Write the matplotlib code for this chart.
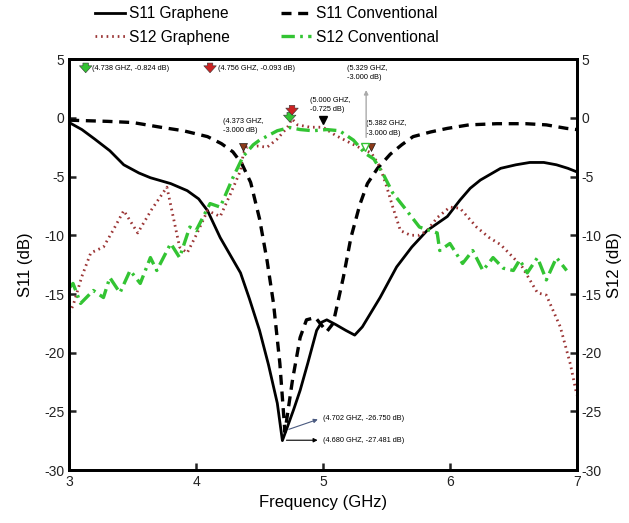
import matplotlib
matplotlib.use("Agg")
import matplotlib.pyplot as plt

plt.rcParams['font.family'] = ['Liberation Sans', 'DejaVu Sans']
plt.rcParams['axes.unicode_minus'] = False

# S11 graphene (solid)
s11g_f = [3.00, 3.10, 3.20, 3.32, 3.43, 3.55, 3.64, 3.80, 3.93, 4.02, 4.09, 4.19, 4.27, 4.35,
          4.42, 4.50, 4.57, 4.64, 4.68, 4.72, 4.77, 4.82, 4.88, 4.95, 4.99, 5.03, 5.10, 5.18,
          5.25, 5.31, 5.45, 5.58, 5.70, 5.82, 5.98, 6.08, 6.16, 6.24, 6.40, 6.52, 6.63, 6.74,
          6.84, 6.93, 7.00]
s11g_db = [-0.4, -1.0, -1.8, -2.8, -4.0, -4.7, -5.1, -5.6, -6.2, -6.9, -7.9, -10.2, -11.7, -13.2,
           -15.4, -18.1, -21.0, -24.3, -27.48, -26.3, -24.8, -23.2, -20.9, -18.1, -17.4, -17.2,
           -17.6, -18.1, -18.5, -17.8, -15.3, -12.7, -11.0, -9.6, -8.4, -7.0, -6.0, -5.3, -4.3,
           -4.0, -3.8, -3.8, -4.0, -4.3, -4.6]

# S11 conventional (dashed)
s11c_f = [3.00, 3.30, 3.50, 3.72, 3.90, 4.09, 4.20, 4.29, 4.36, 4.43, 4.50, 4.56, 4.61, 4.66,
          4.70, 4.76, 4.82, 4.87, 4.94, 5.03, 5.08, 5.16, 5.22, 5.29, 5.35, 5.43, 5.53, 5.62,
          5.71, 5.85, 5.98, 6.15, 6.37, 6.60, 6.76, 6.92, 7.00]
s11c_db = [-0.2, -0.3, -0.4, -0.8, -1.1, -1.6, -2.2, -2.9, -3.9, -5.5, -8.6, -12.2, -15.8, -20.9,
           -26.75, -22.3, -18.7, -17.2, -17.0, -18.2, -17.5, -13.6, -10.2, -7.4, -5.6, -4.3, -3.1,
           -2.3, -1.6, -1.2, -0.9, -0.6, -0.5, -0.5, -0.6, -0.9, -1.0]

# S12 graphene (dotted)
s12g_f = [3.00, 3.03, 3.10, 3.17, 3.27, 3.35, 3.43, 3.54, 3.65, 3.77, 3.87, 3.93, 4.00, 4.09,
          4.19, 4.27, 4.35, 4.373, 4.40, 4.48, 4.56, 4.64, 4.72, 4.756, 4.80, 4.90, 5.00, 5.10,
          5.19, 5.30, 5.382, 5.45, 5.50, 5.55, 5.61, 5.69, 5.76, 5.82, 5.90, 6.00, 6.08, 6.21,
          6.31, 6.40, 6.50, 6.57, 6.69, 6.76, 6.87, 6.95, 7.00]
s12g_db = [-16.6, -16.0, -13.5, -11.5, -11.0, -9.5, -7.9, -9.8, -7.8, -5.9, -11.0, -11.5, -10.0,
           -7.9, -8.4, -6.5, -4.5, -3.0, -2.5, -2.4, -2.5, -1.8, -0.8, -0.093, -0.6, -0.8, -0.8,
           -1.5, -2.0, -2.6, -3.0, -4.2, -5.8, -7.6, -9.6, -10.0, -10.0, -9.6, -8.5, -7.6, -7.7,
           -9.3, -10.2, -10.8, -11.9, -12.7, -14.9, -15.1, -17.8, -21.0, -23.6]

# S12 conventional (dash-dot)
s12c_f = [3.00, 3.03, 3.09, 3.19, 3.27, 3.32, 3.40, 3.48, 3.56, 3.64, 3.69, 3.80, 3.87, 3.95,
          4.00, 4.11, 4.19, 4.29, 4.37, 4.45, 4.50, 4.64, 4.738, 4.82, 4.92, 5.03, 5.13, 5.24,
          5.329, 5.40, 5.47, 5.55, 5.66, 5.76, 5.90, 5.92, 6.00, 6.10, 6.18, 6.26, 6.34, 6.42,
          6.50, 6.55, 6.61, 6.69, 6.76, 6.84, 6.92]
s12c_db = [-14.5, -14.1, -15.8, -14.7, -15.3, -13.6, -14.9, -13.0, -14.1, -11.9, -13.0, -10.7,
           -11.9, -9.3, -9.6, -7.3, -7.6, -5.1, -3.3, -2.3, -1.9, -1.1, -0.824, -1.0, -1.1, -1.0,
           -1.1, -1.9, -3.0, -3.5, -4.7, -6.4, -7.9, -9.3, -9.8, -11.3, -10.7, -12.4, -11.3,
           -13.0, -11.9, -12.8, -13.0, -12.1, -13.2, -11.9, -13.8, -11.9, -13.0]

x_ticks = [3, 4, 5, 6, 7]
y_ticks = [5, 0, -5, -10, -15, -20, -25, -30]

RED = '#9b3535'
GREEN = '#33c433'

fig = plt.figure(figsize=(6.29, 5.23), dpi=100)
ax = fig.add_axes([0.110, 0.101, 0.807, 0.786])

l1, = ax.plot(s11g_f, s11g_db, color='black', lw=2.0, label='S11 Graphene')
l2, = ax.plot(s11c_f, s11c_db, color='black', lw=2.4, ls=(0, (3, 2)), label='S11 Conventional')
l3, = ax.plot(s12g_f, s12g_db, color=RED, lw=2.0, ls=(0, (0.6, 1.4)), label='S12 Graphene')
l4, = ax.plot(s12c_f, s12c_db, color=GREEN, lw=2.4, ls=(0, (4, 1.6, 0.8, 1.6)), label='S12 Conventional')

ax.set_xlim(3, 7)
ax.set_ylim(-30, 5)
ax.set_xticks(x_ticks)
ax.set_yticks(y_ticks)
ax.tick_params(direction='in', length=5, width=1.8, labelsize=10, colors='#222222')
for s in ax.spines.values():
    s.set_linewidth(2)
ax.set_xlabel('Frequency (GHz)', fontsize=12, labelpad=4)
ax.set_ylabel('S11 (dB)', fontsize=12, labelpad=8)

ax2 = ax.twinx()
ax2.set_ylim(-30, 5)
ax2.set_yticks(y_ticks)
ax2.tick_params(direction='in', length=5, width=1.8, labelsize=10, colors='#222222')
ax2.set_ylabel('S12 (dB)', fontsize=12, labelpad=4)
for s in ax2.spines.values():
    s.set_linewidth(2)

fs = 5.3
# fat marker arrows
def fat_arrow(x, y, fc):
    ax.annotate('', xy=(x, y), xytext=(x, y + 1.3),
                arrowprops=dict(arrowstyle='simple,head_length=0.5,head_width=0.9,tail_width=0.4',
                                fc=fc, ec='#333333', lw=0.4, mutation_scale=10))

fat_arrow(3.13, 3.6, GREEN)
ax.text(3.18, 4.2, '(4.738 GHZ, -0.824 dB)', fontsize=fs, va='center')
fat_arrow(4.11, 3.6, '#cc2222')
ax.text(4.17, 4.2, '(4.756 GHZ, -0.093 dB)', fontsize=fs, va='center')

fat_arrow(4.738, -0.6, GREEN)
fat_arrow(4.756, 0.0, '#cc2222')

ax.plot([5.0], [-0.2], marker='v', ms=6, color='black', ls='none')
ax.text(4.90, 1.8, '(5.000 GHZ,\n-0.725 dB)', fontsize=fs, va='top', linespacing=1.5)

ax.plot([4.373, 5.382], [-2.5, -2.5], marker='v', ms=6, color='#8b3a1a', mec='black', mew=0.4, ls='none')
ax.plot([5.329], [-2.5], marker='v', ms=6, color='white', mec=GREEN, mew=1, ls='none')
ax.text(4.21, 0.0, '(4.373 GHZ,\n-3.000 dB)', fontsize=fs, va='top', linespacing=1.5)
ax.text(5.34, -0.2, '(5.382 GHZ,\n-3.000 dB)', fontsize=fs, va='top', linespacing=1.5)

ax.annotate('', xy=(5.34, 2.6), xytext=(5.34, -1.9),
            arrowprops=dict(arrowstyle='-|>', color='#aaaaaa', lw=1.0, mutation_scale=6))
ax.text(5.19, 4.5, '(5.329 GHZ,\n-3.000 dB)', fontsize=fs, va='top', linespacing=1.5)

ax.annotate('', xy=(4.98, -25.6), xytext=(4.71, -26.6),
            arrowprops=dict(arrowstyle='-|>', color='#4a5a80', lw=0.8, mutation_scale=6))
ax.text(5.0, -25.6, '(4.702 GHZ, -26.750 dB)', fontsize=fs, va='center')
ax.annotate('', xy=(4.98, -27.45), xytext=(4.69, -27.45),
            arrowprops=dict(arrowstyle='-|>', color='black', lw=0.8, mutation_scale=6))
ax.text(5.0, -27.45, '(4.680 GHZ, -27.481 dB)', fontsize=fs, va='center')

fig.legend(handles=[l1, l3, l2, l4], ncol=2, loc='upper left',
           bbox_to_anchor=(95 / 629, 1 - 6 / 523), frameon=False, fontsize=11.2,
           borderpad=0, borderaxespad=0, handlelength=1.9, handletextpad=0.3,
           columnspacing=3.3, labelspacing=0.55)

fig.savefig('out.png', dpi=100)
